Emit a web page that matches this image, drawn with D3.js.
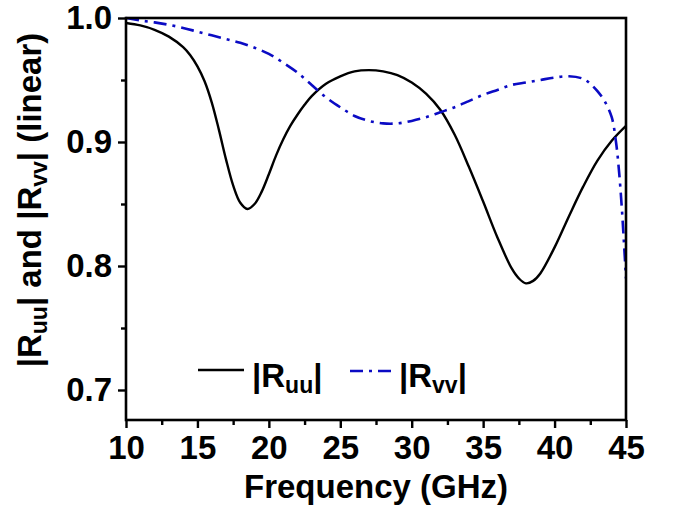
<!DOCTYPE html>
<html>
<head>
<meta charset="utf-8">
<script src="https://cdn.jsdelivr.net/npm/d3@7"></script>
<style>
  html, body { margin: 0; padding: 0; background: #fff; }
  svg { display: block; font-family: "Liberation Sans", Arial, sans-serif; font-weight: bold; }
</style>
</head>
<body>
<svg id="chart" width="673" height="513"></svg>
<script>
// ---- data ----
const freqUU = [10, 11, 12, 13, 14, 14.5, 15, 15.5, 16, 16.5, 17, 17.5, 18, 18.5, 19, 19.5, 20, 20.5, 21, 21.5, 22, 22.5, 23, 24, 25, 26, 27, 28, 29, 30, 31, 32, 33, 34, 35, 36, 37, 37.5, 38, 38.5, 39, 40, 41, 42, 43, 44, 45];
const valUU  = [0.996, 0.994, 0.9905, 0.985, 0.9765, 0.970, 0.961, 0.949, 0.932, 0.910, 0.886, 0.865, 0.851, 0.846, 0.850, 0.860, 0.874, 0.889, 0.902, 0.913, 0.922, 0.930, 0.937, 0.947, 0.953, 0.957, 0.958, 0.957, 0.954, 0.948, 0.939, 0.926, 0.906, 0.880, 0.852, 0.823, 0.798, 0.790, 0.786, 0.788, 0.794, 0.815, 0.840, 0.864, 0.885, 0.901, 0.913];

const freqVV = [10, 11, 12, 13, 14, 15, 16, 17, 18, 19, 20, 21, 22, 23, 24, 25, 26, 27, 28, 29, 30, 31, 32, 33, 34, 35, 36, 37, 38, 39, 40, 41, 42, 42.5, 43, 43.5, 44, 44.3, 44.5, 44.7, 44.85, 45];
const valVV  = [1.000, 0.998, 0.9965, 0.9945, 0.992, 0.989, 0.986, 0.983, 0.980, 0.976, 0.971, 0.964, 0.956, 0.946, 0.936, 0.928, 0.921, 0.917, 0.915, 0.915, 0.917, 0.920, 0.924, 0.928, 0.933, 0.938, 0.942, 0.946, 0.948, 0.950, 0.952, 0.953, 0.951, 0.947, 0.941, 0.933, 0.920, 0.900, 0.878, 0.848, 0.820, 0.790];

const xTicks = [10, 15, 20, 25, 30, 35, 40, 45];
const xMinorTicks = [12.5, 17.5, 22.5, 27.5, 32.5, 37.5, 42.5];
const yTicks = [0.7, 0.8, 0.9, 1.0];
const yMinorTicks = [0.75, 0.85, 0.95];

// ---- layout ----
const W = 673, H = 513;
const margin = { left: 126, top: 18, right: 47, bottom: 93 };
const iw = W - margin.left - margin.right;
const ih = H - margin.top - margin.bottom;

const svg = d3.select("#chart");
const g = svg.append("g").attr("transform", `translate(${margin.left},${margin.top})`);

const x = d3.scaleLinear().domain([10, 45]).range([0, iw]);
const y = d3.scaleLinear().domain([0.6758, 1.0]).range([ih, 0]);

// clip
svg.append("defs").append("clipPath").attr("id", "clip")
  .append("rect").attr("x", 0).attr("y", -2).attr("width", iw).attr("height", ih + 2);

// curves
const line = d3.line().x(d => x(d[0])).y(d => y(d[1])).curve(d3.curveCatmullRom.alpha(0.5));
const uu = freqUU.map((f, i) => [f, valUU[i]]);
const vv = freqVV.map((f, i) => [f, valVV[i]]);

const curves = g.append("g").attr("clip-path", "url(#clip)");
curves.append("path").datum(uu).attr("d", line)
  .attr("fill", "none").attr("stroke", "#000").attr("stroke-width", 2.4);
curves.append("path").datum(vv).attr("d", line)
  .attr("fill", "none").attr("stroke", "#0b0bc4").attr("stroke-width", 2.6)
  .attr("stroke-dasharray", "13,6,3,6");

// axes
const fmtY = d3.format(".1f");
const xAxis = g.append("g").attr("transform", `translate(0,${ih})`)
  .call(d3.axisBottom(x).tickValues(xTicks).tickSize(8).tickPadding(8).tickFormat(d3.format("d")));
const xMinor = g.append("g").attr("transform", `translate(0,${ih})`)
  .call(d3.axisBottom(x).tickValues(xMinorTicks).tickSize(5).tickFormat(""));
const yAxis = g.append("g")
  .call(d3.axisLeft(y).tickValues(yTicks).tickSize(8).tickPadding(6).tickFormat(fmtY));
const yMinor = g.append("g")
  .call(d3.axisLeft(y).tickValues(yMinorTicks).tickSize(5).tickFormat(""));

[xAxis, xMinor, yAxis, yMinor].forEach(a => {
  a.select(".domain").remove();
  a.selectAll(".tick line").attr("stroke", "#000").attr("stroke-width", 2.4);
  a.selectAll("text").attr("fill", "#000")
    .style("font-family", '"Liberation Sans", Arial, sans-serif')
    .style("font-weight", "bold").style("font-size", "33px");
});

// frame
g.append("rect").attr("x", 0).attr("y", 0).attr("width", iw).attr("height", ih)
  .attr("fill", "none").attr("stroke", "#000").attr("stroke-width", 2.6);

// x title
svg.append("text")
  .attr("x", margin.left + iw / 2).attr("y", 498)
  .attr("text-anchor", "middle")
  .style("font-size", "33px").style("font-weight", "bold")
  .text("Frequency (GHz)");

// y title with subscripts
const yt = svg.append("text")
  .attr("transform", `translate(41,${200}) rotate(-90)`)
  .attr("text-anchor", "middle")
  .style("font-size", "33px").style("font-weight", "bold");
function addParts(el, parts) {
  parts.forEach(p => {
    const t = el.append("tspan").text(p.t);
    if (p.sub) t.style("font-size", "23px").attr("dy", 6);
    else if (p.back) t.attr("dy", -6);
  });
}
addParts(yt, [
  { t: "|R" }, { t: "uu", sub: true }, { t: "| and |R", back: true },
  { t: "vv", sub: true }, { t: "| (linear)", back: true }
]);

// legend
const lg = svg.append("g");
lg.append("line").attr("x1", 198).attr("x2", 244).attr("y1", 370).attr("y2", 370)
  .attr("stroke", "#000").attr("stroke-width", 2.4);
const l1 = lg.append("text").attr("x", 252).attr("y", 387).style("font-size", "33px");
addParts(l1, [{ t: "|R" }, { t: "uu", sub: true }, { t: "|", back: true }]);
lg.append("line").attr("x1", 350).attr("x2", 392).attr("y1", 371).attr("y2", 371)
  .attr("stroke", "#0b0bc4").attr("stroke-width", 2.6).attr("stroke-dasharray", "13,6,3,6");
const l2 = lg.append("text").attr("x", 399).attr("y", 387).style("font-size", "33px");
addParts(l2, [{ t: "|R" }, { t: "vv", sub: true }, { t: "|", back: true }]);
</script>
</body>
</html>
